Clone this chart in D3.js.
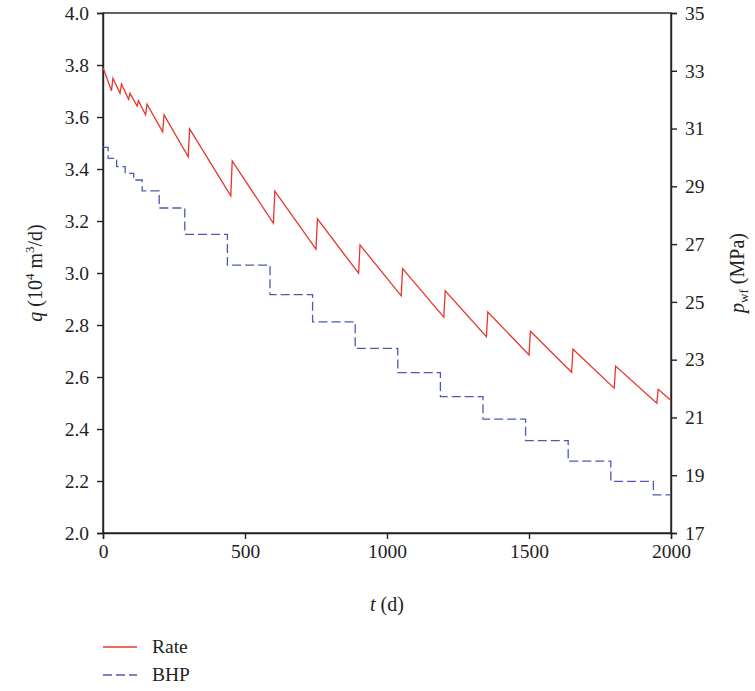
<!DOCTYPE html>
<html>
<head>
<meta charset="utf-8">
<script src="https://cdn.jsdelivr.net/npm/d3@7"></script>
<style>
  html, body { margin: 0; padding: 0; background: #fff; }
  svg text { font-family: "Liberation Serif", "DejaVu Serif", serif; fill: #222; }
</style>
</head>
<body>
<svg id="chart" width="755" height="691"></svg>
<script>
// Gas rate: sawtooth of declining rate with restarts (day, 10^4 m3/d)
const rateDays = [0, 30, 35, 60, 65, 90, 95, 120, 125, 150, 155, 210, 215, 300, 305,
  450, 455, 600, 605, 750, 755, 900, 905, 1050, 1055, 1200, 1205, 1350, 1355,
  1500, 1505, 1650, 1655, 1800, 1805, 1950, 1955, 2000];
const rateValues = [3.79, 3.701, 3.749, 3.691, 3.727, 3.668, 3.691, 3.642, 3.663, 3.608, 3.649,
  3.543, 3.608, 3.447, 3.554, 3.297, 3.431, 3.191, 3.315, 3.092, 3.208, 2.999, 3.108,
  2.912, 3.017, 2.830, 2.931, 2.755, 2.850, 2.685, 2.776, 2.618, 2.707, 2.557, 2.642,
  2.499, 2.553, 2.510];

// Bottom-hole pressure: stepwise schedule (day the step starts, MPa)
const bhpDays = [0, 18, 48, 78, 108, 138, 198, 288, 438, 588, 738, 888, 1038, 1188,
  1338, 1488, 1638, 1788, 1938, 2000];
const bhpValues = [30.35, 29.97, 29.68, 29.45, 29.22, 28.84, 28.25, 27.34, 26.27, 25.25,
  24.31, 23.39, 22.55, 21.72, 20.94, 20.20, 19.49, 18.79, 18.32, 18.32];

// Axis ticks
const xTicks = [0, 500, 1000, 1500, 2000];
const leftTicks = [2.0, 2.2, 2.4, 2.6, 2.8, 3.0, 3.2, 3.4, 3.6, 3.8, 4.0];
const rightTicks = [17, 19, 21, 23, 25, 27, 29, 31, 33, 35];

const seriesNames = ["Rate", "BHP"];
const rateColor = "#e8342b";
const bhpColor = "#4d58b8";

const svg = d3.select("#chart");
const plotL = 103, plotR = 671, plotT = 13, plotB = 533;

const x = d3.scaleLinear().domain([0, 2000]).range([plotL, plotR]);
const yL = d3.scaleLinear().domain([2, 4]).range([plotB, plotT]);
const yR = d3.scaleLinear().domain([17, 35]).range([plotB, plotT]);

const fs = 19.5;
const titleFs = 20;
const supFs = 13;

// Plot frame
svg.append("rect")
  .attr("x", plotL).attr("y", plotT)
  .attr("width", plotR - plotL).attr("height", plotB - plotT)
  .attr("fill", "none").attr("stroke", "#222").attr("stroke-width", 1.4);

// Axes
const styleAxis = g => {
  g.select(".domain").attr("stroke", "#222").attr("stroke-width", 1.4);
  g.selectAll(".tick line").attr("stroke", "#222").attr("stroke-width", 1.4);
  g.selectAll(".tick text").attr("font-size", fs).attr("fill", "#2a2a2a")
    .attr("font-family", "Liberation Serif, DejaVu Serif, serif");
};

svg.append("g").attr("transform", `translate(0,${plotB})`)
  .call(d3.axisBottom(x).tickValues(xTicks).tickFormat(d3.format("d")).tickSizeOuter(0).tickSize(6).tickPadding(5))
  .call(styleAxis);

svg.append("g").attr("transform", `translate(${plotL},0)`)
  .call(d3.axisLeft(yL).tickValues(leftTicks).tickFormat(d3.format(".1f")).tickSizeOuter(0).tickSize(6).tickPadding(8))
  .call(styleAxis);

svg.append("g").attr("transform", `translate(${plotR},0)`)
  .call(d3.axisRight(yR).tickValues(rightTicks).tickFormat(d3.format("d")).tickSizeOuter(0).tickSize(6).tickPadding(8))
  .call(styleAxis);

// Series
const rateLine = d3.line().x((d, i) => x(rateDays[i])).y(d => yL(d));
svg.append("path").datum(rateValues)
  .attr("d", rateLine)
  .attr("fill", "none").attr("stroke", rateColor).attr("stroke-width", 1.3);

const bhpLine = d3.line().curve(d3.curveStepAfter)
  .x((d, i) => x(bhpDays[i])).y(d => yR(d));
svg.append("path").datum(bhpValues)
  .attr("d", bhpLine)
  .attr("fill", "none").attr("stroke", bhpColor).attr("stroke-width", 1.3)
  .attr("stroke-dasharray", "9,4");

// Axis titles
svg.append("text")
  .attr("x", 387).attr("y", 611).attr("text-anchor", "middle").attr("font-size", titleFs)
  .call(t => {
    t.append("tspan").attr("font-style", "italic").text("t");
    t.append("tspan").text(" (d)");
  });

svg.append("text")
  .attr("transform", "translate(42,273) rotate(-90)")
  .attr("text-anchor", "middle").attr("font-size", titleFs)
  .call(t => {
    t.append("tspan").attr("font-style", "italic").text("q");
    t.append("tspan").text(" (10");
    t.append("tspan").attr("font-size", supFs).attr("dy", -8).text("4");
    t.append("tspan").attr("dy", 8).text(" m");
    t.append("tspan").attr("font-size", supFs).attr("dy", -8).text("3");
    t.append("tspan").attr("dy", 8).text("/d)");
  });

svg.append("text")
  .attr("transform", "translate(744,273) rotate(-90)")
  .attr("text-anchor", "middle").attr("font-size", titleFs)
  .call(t => {
    t.append("tspan").attr("font-style", "italic").text("p");
    t.append("tspan").attr("font-size", supFs).attr("dy", 4).text("wf");
    t.append("tspan").attr("dy", -4).text(" (MPa)");
  });

// Legend
const legend = svg.append("g");
seriesNames.forEach((name, i) => {
  const yy = 647 + i * 28;
  legend.append("line")
    .attr("x1", 103).attr("x2", 137).attr("y1", yy).attr("y2", yy)
    .attr("stroke", i === 0 ? rateColor : bhpColor).attr("stroke-width", 1.3)
    .attr("stroke-dasharray", i === 0 ? null : "9,4");
  legend.append("text")
    .attr("x", 152).attr("y", yy + 6).attr("font-size", fs).text(name);
});
</script>
</body>
</html>
